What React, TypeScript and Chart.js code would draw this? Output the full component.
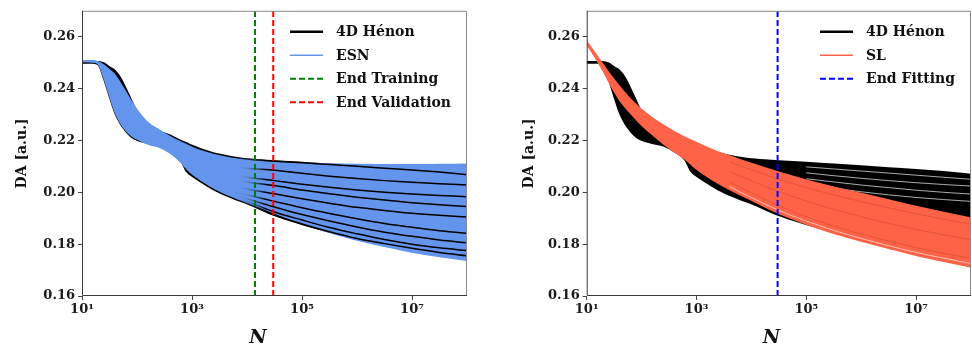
import React, { useEffect, useRef } from 'react';
import { Chart, registerables } from 'chart.js';

Chart.register(...registerables);

const SERIF = '"DejaVu Serif", "Liberation Serif", serif';

// Shared sample positions along N (log-spaced, 10 .. 1e8)
const N_SAMPLES = [
  10, 15.85, 19.95, 25.12, 31.62, 39.81, 50.12, 63.1, 79.43, 100,
  158.5, 251.2, 398.1, 631, 794.3, 1000, 1585, 2512, 3981, 6310,
  1e4, 31623, 1e5, 316228, 1e6, 3162278, 1e7, 31622777, 1e8,
];

// 4D Hénon dynamic aperture: upper and lower envelope of the bundle
const HENON_HIGH = [
  0.2503, 0.2503, 0.2503, 0.2497, 0.2482, 0.2468, 0.2440, 0.2398, 0.2352, 0.2308,
  0.2262, 0.2236, 0.2219, 0.2198, 0.2189, 0.2180, 0.2163, 0.2150, 0.2141, 0.2133,
  0.2127, 0.2120, 0.2114, 0.2107, 0.2100, 0.2093, 0.2086, 0.2078, 0.2068,
];
const HENON_LOW = [
  0.2500, 0.2500, 0.2493, 0.2438, 0.2372, 0.2308, 0.2265, 0.2236, 0.2214, 0.2202,
  0.2190, 0.2180, 0.2158, 0.2124, 0.2082, 0.2064, 0.2036, 0.2010, 0.1990, 0.1973,
  0.1957, 0.1912, 0.1878, 0.1848, 0.1822, 0.1802, 0.1784, 0.1768, 0.1755,
];

// Individual Hénon curves in the long-time tail (from N = 6310 onwards)
const TAIL_START = 19;
const HENON_TAILS = [
  [0.2133, 0.2127, 0.2120, 0.2114, 0.2107, 0.2100, 0.2093, 0.2086, 0.2078, 0.2068],
  [0.2098, 0.2093, 0.2085, 0.2073, 0.2062, 0.2053, 0.2045, 0.2039, 0.2033, 0.2028],
  [0.2065, 0.2058, 0.2045, 0.2031, 0.2019, 0.2009, 0.2000, 0.1993, 0.1988, 0.1983],
  [0.2048, 0.2040, 0.2026, 0.2009, 0.1994, 0.1981, 0.1970, 0.1960, 0.1952, 0.1945],
  [0.2022, 0.2013, 0.1994, 0.1975, 0.1958, 0.1942, 0.1930, 0.1919, 0.1911, 0.1905],
  [0.2000, 0.1990, 0.1965, 0.1940, 0.1918, 0.1898, 0.1880, 0.1865, 0.1852, 0.1842],
  [0.1988, 0.1975, 0.1943, 0.1914, 0.1889, 0.1866, 0.1846, 0.1830, 0.1816, 0.1805],
  [0.1980, 0.1965, 0.1924, 0.1893, 0.1864, 0.1840, 0.1818, 0.1800, 0.1786, 0.1775],
  [0.1974, 0.1958, 0.1912, 0.1878, 0.1848, 0.1822, 0.1802, 0.1784, 0.1768, 0.1755],
];
// Where the tail curves emerge from the ESN bundle
const TAIL_FADE_FROM = 6310;
const TAIL_FADE_TO = 22000;

// Gaps between neighbouring Hénon curves (from N = 1e5 onwards)
const GAP_START = 22;
const HENON_GAPS = [
  [0.2098, 0.2090, 0.2082, 0.2074, 0.2066, 0.2058, 0.2050],
  [0.2075, 0.2064, 0.2054, 0.2045, 0.2037, 0.2030, 0.2024],
  [0.2052, 0.2040, 0.2028, 0.2018, 0.2008, 0.2000, 0.1993],
  [0.2030, 0.2016, 0.2002, 0.1990, 0.1980, 0.1972, 0.1965],
];

// ESN predictions: envelope of the bundle
const ESN_HIGH = [
  0.2507, 0.2507, 0.2502, 0.2490, 0.2472, 0.2452, 0.2420, 0.2385, 0.2350, 0.2318,
  0.2268, 0.2240, 0.2215, 0.2193, 0.2183, 0.2173, 0.2157, 0.2145, 0.2136, 0.2128,
  0.2123, 0.2116, 0.2112, 0.2109, 0.2107, 0.2106, 0.2106, 0.2107, 0.2108,
];
const ESN_LOW = [
  0.2504, 0.2503, 0.2494, 0.2441, 0.2375, 0.2311, 0.2268, 0.2239, 0.2218, 0.2206,
  0.2186, 0.2174, 0.2152, 0.2116, 0.2092, 0.2072, 0.2042, 0.2016, 0.1995, 0.1978,
  0.1962, 0.1920, 0.1880, 0.1846, 0.1816, 0.1792, 0.1770, 0.1752, 0.1738,
];

// Scaling-law fits: envelope of the bundle
const SL_HIGH = [
  0.2582, 0.2522, 0.2492, 0.2462, 0.2434, 0.2407, 0.2382, 0.2359, 0.2338, 0.2319,
  0.2286, 0.2258, 0.2233, 0.2211, 0.2201, 0.2191, 0.2172, 0.2155, 0.2140, 0.2125,
  0.2111, 0.2077, 0.2047, 0.2020, 0.1995, 0.1970, 0.1945, 0.1922, 0.1900,
];
const SL_LOW = [
  0.2572, 0.2505, 0.2468, 0.2428, 0.2390, 0.2356, 0.2329, 0.2305, 0.2282, 0.2260,
  0.2222, 0.2187, 0.2157, 0.2127, 0.2108, 0.2090, 0.2060, 0.2034, 0.2011, 0.1990,
  0.1970, 0.1919, 0.1878, 0.1842, 0.1812, 0.1784, 0.1757, 0.1734, 0.1712,
];

// Individual scaling-law curves inside the bundle (from N = 3981 onwards)
const SL_INNER_START = 18;
const SL_INNER = [
  [0.2118, 0.2102, 0.2087, 0.2050, 0.2018, 0.1990, 0.1964, 0.1940, 0.1917, 0.1896, 0.1877],
  [0.2080, 0.2062, 0.2045, 0.2003, 0.1966, 0.1934, 0.1906, 0.1880, 0.1857, 0.1836, 0.1817],
  [0.2040, 0.2018, 0.1998, 0.1948, 0.1906, 0.1870, 0.1839, 0.1812, 0.1787, 0.1765, 0.1746],
];
const SL_GAP = [0.2022, 0.2000, 0.1980, 0.1930, 0.1889, 0.1853, 0.1822, 0.1794, 0.1768, 0.1746, 0.1725];

// Vertical markers
const END_TRAINING = 14000;
const END_VALIDATION = 30000;
const END_FITTING = 30000;

// Axes
const Y_MIN = 0.16;
const Y_MAX = 0.27;
const Y_TICK_VALUES = [0.16, 0.18, 0.2, 0.22, 0.24, 0.26];
const X_MIN = 10;
const X_MAX = 1e8;
const X_TICK_VALUES = [10, 1e3, 1e5, 1e7];
const X_TICK_LABELS = ['10¹', '10³', '10⁵', '10⁷'];
const Y_TITLE = 'DA [a.u.]';
const X_TITLE = 'N';

const HENON_LABEL = '4D Hénon';
const ESN_LABEL = 'ESN';
const SL_LABEL = 'SL';

const BLACK = '#000000';
const ESN_BLUE = '#6495ED';
const SL_RED = '#FF6347';

const pts = (ys: number[], start = 0) => ys.map((y, i) => ({ x: N_SAMPLES[start + i], y }));

const curve = (ys: number[], start: number, color: any, width: number, order: number) => ({
  data: pts(ys, start),
  borderColor: color,
  backgroundColor: color,
  borderWidth: width,
  pointRadius: 0,
  fill: false,
  order,
  cubicInterpolationMode: 'monotone',
});

const band = (hi: number[], lo: number[], color: string, width: number, order: number) => [
  { ...curve(hi, 0, color, width, order), fill: '+1' },
  curve(lo, 0, color, width, order),
];

const marker = (n: number, color: string) => ({
  data: [{ x: n, y: Y_MIN }, { x: n, y: Y_MAX }],
  borderColor: color,
  borderWidth: 2,
  borderDash: [6, 3],
  pointRadius: 0,
  fill: false,
  order: 0,
});

// Tail curves fade in from the bundle colour to black
const tailColor = (ctx: any) => {
  const chart = ctx.chart;
  if (!chart.chartArea || !chart.scales.x) return BLACK;
  const x0 = chart.scales.x.getPixelForValue(TAIL_FADE_FROM);
  const x1 = chart.scales.x.getPixelForValue(TAIL_FADE_TO);
  const g = chart.ctx.createLinearGradient(x0, 0, x1, 0);
  g.addColorStop(0, 'rgba(100,149,237,0)');
  g.addColorStop(1, BLACK);
  return g;
};

type LegendItem = { label: string; color: string; width: number; dash?: number[] };

// Frame, in-plot legend and the italic x title
const decoPlugin = (items: LegendItem[], titleFrac: number) => ({
  id: 'panelDeco',
  afterDraw(chart: any) {
    const { ctx, chartArea: a } = chart;
    ctx.save();
    // frame
    ctx.lineWidth = 1;
    ctx.strokeStyle = '#8a8a8a';
    ctx.beginPath();
    ctx.moveTo(a.left, a.top + 0.5);
    ctx.lineTo(a.right - 0.5, a.top + 0.5);
    ctx.lineTo(a.right - 0.5, a.bottom);
    ctx.stroke();
    ctx.strokeStyle = '#3a3a3a';
    ctx.beginPath();
    ctx.moveTo(a.left + 0.5, a.top);
    ctx.lineTo(a.left + 0.5, a.bottom - 0.5);
    ctx.lineTo(a.right, a.bottom - 0.5);
    ctx.stroke();

    // legend
    ctx.font = `bold 14px ${SERIF}`;
    ctx.textBaseline = 'middle';
    ctx.textAlign = 'left';
    const maxW = Math.max(...items.map((it) => ctx.measureText(it.label).width));
    const textX = a.right - 16 - maxW;
    const lineEnd = textX - 13;
    const lineStart = lineEnd - 33;
    items.forEach((it, i) => {
      const y = a.top + 21 + i * 23.5;
      ctx.strokeStyle = it.color;
      ctx.lineWidth = it.width;
      ctx.setLineDash(it.dash ?? []);
      ctx.beginPath();
      ctx.moveTo(lineStart, y);
      ctx.lineTo(lineEnd, y);
      ctx.stroke();
      ctx.setLineDash([]);
      ctx.fillStyle = '#111';
      ctx.fillText(it.label, textX, y + 1);
    });

    // x title
    ctx.font = `italic bold 19px ${SERIF}`;
    ctx.textAlign = 'center';
    ctx.fillStyle = '#111';
    ctx.fillText(X_TITLE, a.left + titleFrac * (a.right - a.left), 338);
    ctx.restore();
  },
});

const tickFont = { family: SERIF, size: 13, weight: 'bold' as const };

function makeConfig(
  datasets: any[],
  yAxisWidth: number,
  rightPad: number,
  yTitlePad: number,
  legend: LegendItem[],
  titleFrac: number,
): any {
  return {
    type: 'line',
    data: { datasets },
    options: {
      responsive: false,
      animation: false,
      devicePixelRatio: 1,
      layout: { padding: { left: 0, right: rightPad, top: 10, bottom: 0 } },
      plugins: { legend: { display: false }, tooltip: { enabled: false } },
      scales: {
        x: {
          type: 'logarithmic',
          min: X_MIN,
          max: X_MAX,
          afterBuildTicks: (s: any) => {
            s.ticks = X_TICK_VALUES.map((v) => ({ value: v }));
          },
          afterFit: (s: any) => {
            s.height = 50;
          },
          ticks: {
            callback: (v: any) => X_TICK_LABELS[X_TICK_VALUES.indexOf(Number(v))] ?? '',
            font: tickFont,
            color: '#1a1a1a',
            padding: 2,
            maxRotation: 0,
            autoSkip: false,
          },
          grid: { drawOnChartArea: false, drawTicks: true, tickLength: 4, tickColor: '#444', color: '#444' },
          border: { display: false },
        },
        y: {
          min: Y_MIN,
          max: Y_MAX,
          afterBuildTicks: (s: any) => {
            s.ticks = Y_TICK_VALUES.map((v) => ({ value: v }));
          },
          afterFit: (s: any) => {
            s.width = yAxisWidth;
          },
          ticks: {
            callback: (v: any) => Number(v).toFixed(2),
            font: tickFont,
            color: '#1a1a1a',
            padding: 3,
            autoSkip: false,
          },
          title: {
            display: true,
            text: Y_TITLE,
            font: { family: SERIF, size: 14, weight: 'bold' },
            color: '#111',
            padding: { top: yTitlePad, bottom: 0 },
          },
          grid: { drawOnChartArea: false, drawTicks: true, tickLength: 4, tickColor: '#444', color: '#444' },
          border: { display: false },
        },
      },
    },
    plugins: [decoPlugin(legend, titleFrac)],
  };
}

function esnConfig() {
  const datasets = [
    ...band(HENON_HIGH, HENON_LOW, BLACK, 2, 10),
    ...band(ESN_HIGH, ESN_LOW, ESN_BLUE, 1.5, 8),
    ...HENON_TAILS.map((ys) => curve(ys, TAIL_START, tailColor, 1.5, 6)),
    marker(END_TRAINING, '#008000'),
    marker(END_VALIDATION, '#FF0000'),
  ];
  const legend: LegendItem[] = [
    { label: HENON_LABEL, color: BLACK, width: 2.5 },
    { label: ESN_LABEL, color: ESN_BLUE, width: 1.5 },
    { label: 'End Training', color: '#008000', width: 2, dash: [6, 3] },
    { label: 'End Validation', color: '#FF0000', width: 2, dash: [6, 3] },
  ];
  return makeConfig(datasets, 82, 19, 14, legend, 0.457);
}

function slConfig() {
  const datasets = [
    ...band(HENON_HIGH, HENON_LOW, BLACK, 2, 10),
    ...HENON_GAPS.map((ys) => curve(ys, GAP_START, 'rgba(255,255,255,0.75)', 0.9, 9)),
    ...band(SL_HIGH, SL_LOW, SL_RED, 1.5, 8),
    ...SL_INNER.map((ys) => curve(ys, SL_INNER_START, 'rgba(150,45,25,0.4)', 0.7, 7)),
    curve(SL_GAP, SL_INNER_START, 'rgba(255,255,255,0.75)', 0.8, 7),
    marker(END_FITTING, '#0000FF'),
  ];
  const legend: LegendItem[] = [
    { label: HENON_LABEL, color: BLACK, width: 2.5 },
    { label: SL_LABEL, color: SL_RED, width: 1.5 },
    { label: 'End Fitting', color: '#0000FF', width: 2, dash: [6, 3] },
  ];
  return makeConfig(datasets, 100.7, 1, 35, legend, 0.481);
}

function Panel({ left, width, build }: { left: number; width: number; build: () => any }) {
  const ref = useRef<HTMLCanvasElement>(null);
  useEffect(() => {
    const chart = new Chart(ref.current as HTMLCanvasElement, build());
    return () => chart.destroy();
  }, [build]);
  return (
    <canvas
      ref={ref}
      width={width}
      height={346}
      style={{ position: 'absolute', left, top: 0, width, height: 346, display: 'block' }}
    />
  );
}

export default function App() {
  return (
    <div style={{ position: 'fixed', left: 0, top: 0, width: 972, height: 346, background: '#fff', overflow: 'hidden' }}>
      <Panel left={0} width={486} build={esnConfig} />
      <Panel left={486} width={486} build={slConfig} />
    </div>
  );
}
